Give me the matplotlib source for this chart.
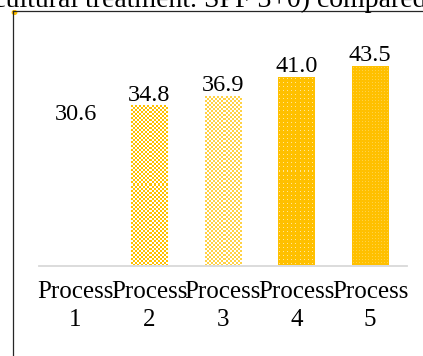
import numpy as np
import matplotlib
matplotlib.use("Agg")
import matplotlib.pyplot as plt
from matplotlib.lines import Line2D
from matplotlib.patches import Circle

categories = ["Process\n1", "Process\n2", "Process\n3", "Process\n4", "Process\n5"]
values = [30.6, 34.8, 36.9, 41.0, 43.5]
labels = ["30.6", "34.8", "36.9", "41.0", "43.5"]

gold = np.array([255, 192, 0]) / 255
white = np.array([255, 255, 255]) / 255
light = np.array([255, 210, 70]) / 255
pale = np.array([255, 230, 153]) / 255

plt.rcParams["font.family"] = ["Liberation Serif", "DejaVu Serif"]

W, H = 423, 356
fig = plt.figure(figsize=(W / 100, H / 100), dpi=100)
ax = fig.add_axes([38.7 / W, (H - 265.5) / H, 368.3 / W, 228.5 / H])

x = np.arange(len(values))
bars = ax.bar(x, values, width=0.49, color="white", zorder=1)
ax.set_xlim(-0.5, 4.5)
ax.set_ylim(0, 50)

for s in ["top", "right", "left"]:
    ax.spines[s].set_visible(False)
ax.spines["bottom"].set_color("#d9d9d9")
ax.spines["bottom"].set_linewidth(1.3)
ax.set_yticks([])
ax.set_xticks(x)
ax.set_xticklabels(categories, fontsize=18, linespacing=1.35)
ax.tick_params(axis="x", length=0, pad=11.5)

for xi, v, lab in zip(x, values, labels):
    ax.annotate(lab, (xi, v), xytext=(0, 0.5), textcoords="offset points",
                ha="center", va="bottom", fontsize=17.5)


# fill patterns (pixel textures) for bars 2-5
def texture(kind, w, h):
    yy, xx = np.mgrid[0:h, 0:w]
    img = np.empty((h, w, 3))
    if kind == "checker":
        m = ((xx // 2 + yy // 2) % 2) == 0
        img[:] = white
        img[m] = gold
    elif kind == "small":
        m = ((xx // 2 + yy // 2) % 2) == 0
        img[:] = white
        img[m] = light
    elif kind == "dots":
        img[:] = gold
        m = (xx % 4 == 1) & (yy % 4 == 1)
        img[m] = pale
    else:
        img[:] = gold
        m = ((xx % 3 == 1) & (yy % 3 == 1))
        img[m] = light
    return img


kinds = [None, "checker", "small", "dots", "fine"]
fig.canvas.draw()
for b, kind in zip(bars, kinds):
    if kind is None:
        continue
    bb = b.get_window_extent()
    w, h = max(int(round(bb.width)), 1), max(int(round(bb.height)), 1)
    x0 = b.get_x()
    ax.imshow(texture(kind, w, h), extent=(x0, x0 + b.get_width(), 0, b.get_height()),
              aspect="auto", interpolation="nearest", interpolation_stage="rgba",
              origin="upper", zorder=2)
ax.set_xlim(-0.5, 4.5)
ax.set_ylim(0, 50)

# chart frame and the page text above it (cut off, as in the screenshot)
fig.add_artist(Line2D([12.5 / W, 12.5 / W], [0, 1 - 10.5 / H], color="#262626", lw=0.9))
fig.add_artist(Line2D([12.5 / W, 1], [1 - 10.5 / H, 1 - 10.5 / H], color="#262626", lw=0.9))
fig.add_artist(Circle((14.5 / W, 1 - 12.5 / H), 2.2 / W, color="#FFC000",
                      transform=fig.transFigure))
fig.text(-50 / W, 1 - 7 / H, "agricultural treatment. SPF 3+0) compared",
         fontsize=20, va="baseline", ha="left")

fig.savefig("out.png", dpi=100)
